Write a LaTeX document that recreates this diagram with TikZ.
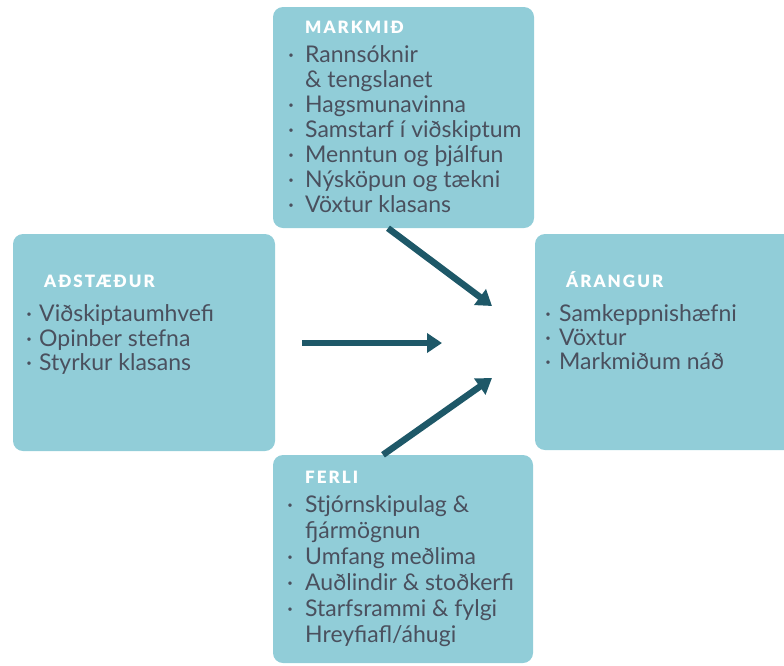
\documentclass[tikz,border=0pt]{standalone}
\usepackage{fontspec}
\setmainfont{Lato}
\newfontfamily\headfont[LetterSpace=12]{Lato Black}
\usetikzlibrary{arrows.meta,calc}
\definecolor{boxfill}{RGB}{145,205,216}
\definecolor{txtc}{RGB}{74,80,94}
\definecolor{arrc}{RGB}{30,88,104}
\begin{document}
\begin{tikzpicture}[x=1pt,y=-1pt,
  panel/.style={fill=boxfill, draw=none, rounded corners=10pt, inner sep=0pt},
  head/.style={anchor=base west, inner sep=0pt, text=white, font=\headfont\fontsize{17}{18}\selectfont},
  item/.style={anchor=base west, inner sep=0pt, text=txtc, font=\fontsize{23}{25}\selectfont},
  bul/.style={anchor=base, inner sep=0pt, text=txtc, font=\fontsize{23}{25}\selectfont},
  arr/.style={draw=arrc, line width=6.5pt, -{Triangle[length=15pt,width=19pt]}}]
\useasboundingbox (0,0) rectangle (784,665);
\clip (0,0) rectangle (784,665);
% panels
\node[panel, minimum width=261pt, minimum height=221pt] (top) at (403.5,117.5) {};
\node[panel, minimum width=262pt, minimum height=217pt] (left) at (144,342.5) {};
\node[panel, minimum width=270pt, minimum height=216pt] (right) at (670,342) {};
\node[panel, minimum width=260pt, minimum height=208pt] (bot) at (403,559) {};
% top texts
\node[head] (hT) at (305,33) {MARKMIÐ};
\node[bul] (bT1) at (291,62) {·};
\node[item] (tT1) at (305,62) {Rannsóknir};
\node[item] (tT2) at (305,87) {\& tengslanet};
\node[bul] (bT3) at (291,112) {·};
\node[item] (tT3) at (305,112) {Hagsmunavinna};
\node[bul] (bT4) at (291,137) {·};
\node[item] (tT4) at (305,137) {Samstarf í viðskiptum};
\node[bul] (bT5) at (291,162) {·};
\node[item] (tT5) at (305,162) {Menntun og þjálfun};
\node[bul] (bT6) at (291,187) {·};
\node[item] (tT6) at (305,187) {Nýsköpun og tækni};
\node[bul] (bT7) at (291,212) {·};
\node[item] (tT7) at (305,212) {Vöxtur klasans};
% left texts
\node[head] (hL) at (44,287) {AÐSTÆÐUR};
\node[bul] (bL1) at (29,321) {·};
\node[item] (tL1) at (39,321) {Viðskiptaumhvefi};
\node[bul] (bL2) at (29,346) {·};
\node[item] (tL2) at (39,346) {Opinber stefna};
\node[bul] (bL3) at (29,370) {·};
\node[item] (tL3) at (39,370) {Styrkur klasans};
% right texts
\node[head] (hR) at (566,287) {ÁRANGUR};
\node[bul] (bR1) at (548,321) {·};
\node[item] (tR1) at (559,321) {Samkeppnishæfni};
\node[bul] (bR2) at (548,345) {·};
\node[item] (tR2) at (559,345) {Vöxtur};
\node[bul] (bR3) at (548,369) {·};
\node[item] (tR3) at (559,369) {Markmiðum náð};
% bottom texts
\node[head] (hB) at (305,483) {FERLI};
\node[bul] (bB1) at (290,512) {·};
\node[item] (tB1) at (305,512) {Stjórnskipulag \&};
\node[item] (tB2) at (305,538) {fjármögnun};
\node[bul] (bB3) at (290,564) {·};
\node[item] (tB3) at (305,564) {Umfang meðlima};
\node[bul] (bB4) at (290,590) {·};
\node[item] (tB4) at (305,590) {Auðlindir \& stoðkerfi};
\node[bul] (bB5) at (290,616) {·};
\node[item] (tB5) at (305,616) {Starfsrammi \& fylgi};
\node[item] (tB6) at (305,642) {Hreyfiafl/áhugi};
% arrows
\coordinate (e1) at (492,306);
\coordinate (s2) at (302,343);
\coordinate (e2) at (442,343);
\coordinate (e3) at (492,378);
\draw[arr] ($(top.south)+(-15.5,0)$) -- (e1);
\draw[arr] (s2) -- (e2);
\draw[arr] ($(bot.north)+(-20,0)$) -- (e3);
\end{tikzpicture}
\end{document}
